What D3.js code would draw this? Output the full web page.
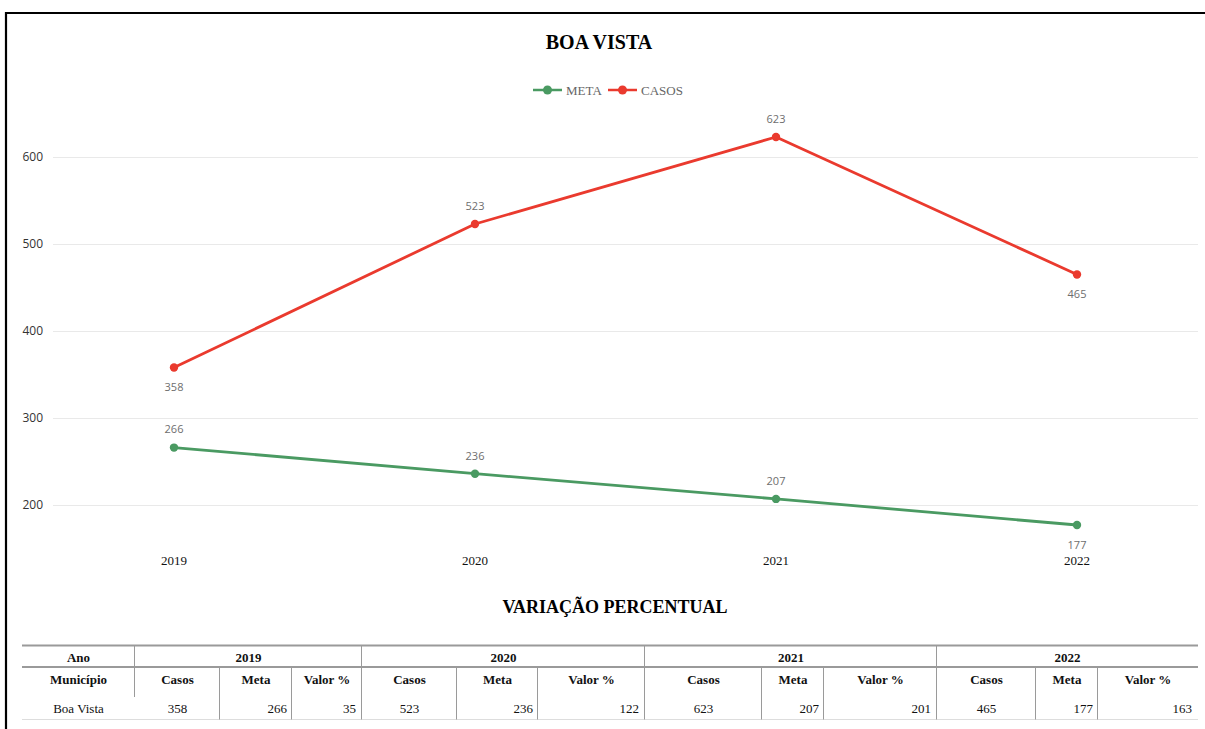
<!DOCTYPE html>
<html>
<head>
<meta charset="utf-8">
<script src="https://cdn.jsdelivr.net/npm/d3@7"></script>
<style>
  html, body { margin: 0; padding: 0; background: #fff; overflow: hidden; }
  svg { display: block; }
</style>
</head>
<body>
<svg id="chart" width="1205" height="729"></svg>
<script>
// ---------- data ----------
const years = ["2019", "2020", "2021", "2022"];
const casos = [358, 523, 623, 465];
const meta = [266, 236, 207, 177];
const casosLabelSide = ["below", "above", "above", "below"];
const metaLabelSide = ["above", "above", "above", "below"];
const yTicks = [200, 300, 400, 500, 600];
const valorPct = [35, 122, 201, 163];
const municipio = "Boa Vista";
const chartTitle = "BOA VISTA";
const tableTitle = "VARIAÇÃO PERCENTUAL";
const seriesNames = ["META", "CASOS"];
const subHeaders = ["Casos", "Meta", "Valor %"];

// ---------- layout ----------
const colors = { META: "#4a9a62", CASOS: "#ea3a2e" };
const svg = d3.select("#chart");

// frame (top and left edges visible; right/bottom are off-page)
svg.append("path").attr("d", "M6,729 L6,13 L1205,13")
  .attr("fill", "none").attr("stroke", "#000").attr("stroke-width", 2.2);

const x = d3.scalePoint().domain(years).range([174, 1077]);
const y = d3.scaleLinear().domain([200, 600]).range([505, 157]);
const gridX0 = 53, gridX1 = 1198;

// grid + y labels
const gy = svg.append("g");
gy.selectAll("line").data(yTicks).join("line")
  .attr("x1", gridX0).attr("x2", gridX1)
  .attr("y1", d => Math.round(y(d)) + 0.5).attr("y2", d => Math.round(y(d)) + 0.5)
  .attr("stroke", "#e9e9e9").attr("stroke-width", 1);
gy.selectAll("text").data(yTicks).join("text")
  .attr("x", 43).attr("y", d => y(d)).attr("dy", "0.35em")
  .attr("text-anchor", "end")
  .style("font-family", "'Open Sans', sans-serif").style("font-size", "12px")
  .attr("fill", "#333").text(d => d);

// x labels
svg.append("g").selectAll("text").data(years).join("text")
  .attr("x", d => x(d)).attr("y", 565).attr("text-anchor", "middle")
  .style("font-family", "'Liberation Serif', 'Times New Roman', serif").style("font-size", "13px")
  .attr("fill", "#111").text(d => d);

// title
svg.append("text").attr("x", 599).attr("y", 49).attr("text-anchor", "middle")
  .style("font-family", "'Liberation Serif', 'Times New Roman', serif").style("font-size", "20px")
  .style("font-weight", "bold").attr("fill", "#000").text(chartTitle);

// legend
const legendItems = [
  { name: seriesNames[0], x0: 533, tx: 566 },
  { name: seriesNames[1], x0: 608, tx: 641 }
];
const lg = svg.append("g");
legendItems.forEach(it => {
  lg.append("line").attr("x1", it.x0).attr("x2", it.x0 + 29).attr("y1", 90).attr("y2", 90)
    .attr("stroke", colors[it.name]).attr("stroke-width", 2.5);
  lg.append("circle").attr("cx", it.x0 + 14.5).attr("cy", 90).attr("r", 4.5).attr("fill", colors[it.name]);
  lg.append("text").attr("x", it.tx).attr("y", 90).attr("dy", "0.35em")
    .style("font-family", "'Liberation Serif', 'Times New Roman', serif").style("font-size", "13px")
    .attr("fill", "#666").text(it.name);
});

// series
function drawSeries(values, color, sides) {
  const pts = years.map((yr, i) => ({ yr, v: values[i], side: sides[i] }));
  const line = d3.line().x(d => x(d.yr)).y(d => y(d.v));
  svg.append("path").datum(pts).attr("d", line)
    .attr("fill", "none").attr("stroke", color).attr("stroke-width", 2.8)
    .attr("stroke-linejoin", "round");
  svg.append("g").selectAll("circle").data(pts).join("circle")
    .attr("cx", d => x(d.yr)).attr("cy", d => y(d.v)).attr("r", 4.2).attr("fill", color);
  svg.append("g").selectAll("text").data(pts).join("text")
    .attr("x", d => x(d.yr)).attr("y", d => y(d.v) + (d.side === "above" ? -18 : 20))
    .attr("dy", "0.35em").attr("text-anchor", "middle")
    .style("font-family", "'Open Sans', sans-serif").style("font-size", "11px")
    .attr("fill", "#6e6e6e").text(d => d.v);
}
drawSeries(meta, colors.META, metaLabelSide);
drawSeries(casos, colors.CASOS, casosLabelSide);

// ---------- table ----------
svg.append("text").attr("x", 615).attr("y", 613).attr("text-anchor", "middle")
  .style("font-family", "'Liberation Serif', 'Times New Roman', serif").style("font-size", "18px")
  .style("font-weight", "bold").attr("fill", "#000").text(tableTitle);

const tblLeft = 22, tblRight = 1198;
const firstColRight = 135;
// column boundaries per year group: [start, casos|meta, meta|valor, end]
const groupBounds = [
  [135, 220, 292, 362],
  [362, 457, 538, 645],
  [645, 762, 824, 937],
  [937, 1036, 1098, 1198]
];
const rTop = 645.5, r1 = 667, r2 = 697, rBot = 719.5;
const serif = "'Liberation Serif', 'Times New Roman', serif";
const tg = svg.append("g").style("font-family", serif).style("font-size", "13px");

function txt(xp, yp, s, anchor, bold) {
  tg.append("text").attr("x", xp).attr("y", yp).attr("text-anchor", anchor)
    .style("font-weight", bold ? "bold" : "normal").attr("fill", "#111").text(s);
}
function vline(xp, y1, y2) {
  tg.append("line").attr("x1", xp + 0.5).attr("x2", xp + 0.5).attr("y1", y1).attr("y2", y2)
    .attr("stroke", "#9a9a9a").attr("stroke-width", 1);
}
// horizontal rules
tg.append("line").attr("x1", tblLeft).attr("x2", tblRight).attr("y1", rTop).attr("y2", rTop)
  .attr("stroke", "#9a9a9a").attr("stroke-width", 2);
tg.append("line").attr("x1", tblLeft).attr("x2", tblRight).attr("y1", r1).attr("y2", r1)
  .attr("stroke", "#9a9a9a").attr("stroke-width", 2);
tg.append("line").attr("x1", tblLeft).attr("x2", tblRight).attr("y1", rBot).attr("y2", rBot)
  .attr("stroke", "#dddddd").attr("stroke-width", 1);

// row 1
txt((tblLeft + firstColRight) / 2, 662, "Ano", "middle", true);
vline(firstColRight - 1, rTop, r1);
// row 2
txt((tblLeft + firstColRight) / 2, 684, "Município", "middle", true);
vline(firstColRight - 1, r1, r2);
// body first cell
txt((tblLeft + firstColRight) / 2, 713, municipio, "middle", false);

years.forEach((yr, i) => {
  const b = groupBounds[i];
  txt((b[0] + b[3]) / 2, 662, yr, "middle", true);
  if (i < years.length - 1) vline(b[3] - 1, rTop, r1);
  for (let k = 0; k < 3; k++) {
    txt((b[k] + b[k + 1]) / 2, 684, subHeaders[k], "middle", true);
  }
  [b[1], b[2]].forEach(xx => vline(xx - 1, r1, rBot));
  if (i < years.length - 1) vline(b[3] - 1, r1, rBot);
  txt((b[0] + b[1]) / 2, 713, casos[i], "middle", false);
  txt(b[2] - 5, 713, meta[i], "end", false);
  txt(b[3] - 6, 713, valorPct[i], "end", false);
});
</script>
</body>
</html>
